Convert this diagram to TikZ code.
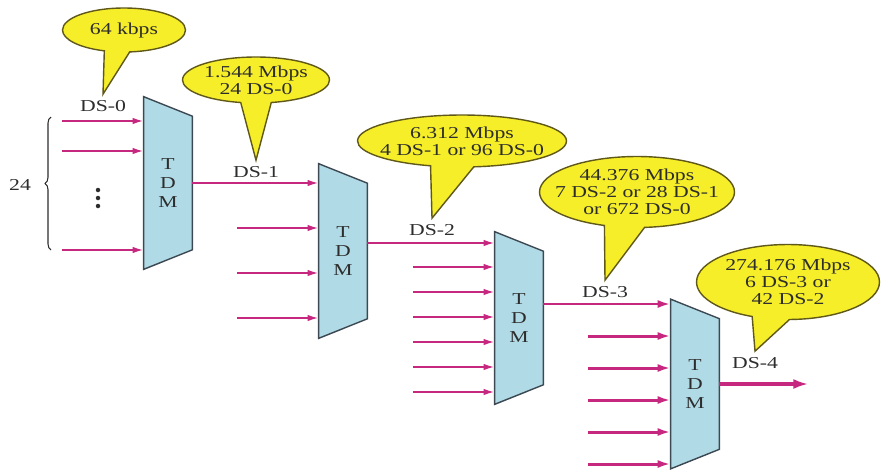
\documentclass[tikz,border=0pt]{standalone}
\usepackage{fontspec}
\setmainfont{Liberation Serif}[FakeStretch=1.3]
\usepackage{tikz}
\usetikzlibrary{arrows.meta,positioning,calc,backgrounds,shapes.callouts,decorations.pathreplacing}
\definecolor{amarillo}{RGB}{246,238,40}
\definecolor{oliva}{RGB}{95,88,25}
\definecolor{celeste}{RGB}{176,219,230}
\definecolor{pizarra}{RGB}{60,72,82}
\definecolor{magenta}{RGB}{198,40,128}
\definecolor{grisoscuro}{RGB}{45,45,45}

\begin{document}
\begin{tikzpicture}[x=0.02cm,y=-0.02cm,font=\fontsize{9.5}{9.6}\selectfont,text=grisoscuro,
  globo/.style={ellipse callout,draw=oliva,fill=amarillo,line width=0.8pt,callout pointer arc=24},
  tdm/.style={minimum width=0.96cm,align=center,font=\fontsize{9.5}{11}\selectfont},
  senal/.style={draw=magenta,line width=1.1pt,-{Latex[length=0.22cm,width=0.13cm]}},
  senalgruesa/.style={senal,line width=1.7pt,-{Latex[length=0.26cm,width=0.16cm]}}]
\useasboundingbox (0,0) rectangle (881,470);

% multiplexores
\node[tdm,minimum height=3.44cm] (m1) at (168,183) {T\\D\\M};
\node[tdm,minimum height=3.48cm] (m2) at (343,251) {T\\D\\M};
\node[tdm,minimum height=3.44cm] (m3) at (519,318) {T\\D\\M};
\node[tdm,minimum height=3.38cm] (m4) at (695,384) {T\\D\\M};
\begin{scope}[on background layer]
\foreach \m in {m1,m2,m3,m4}
  \draw[draw=pizarra,fill=celeste,line width=0.8pt] (\m.north west) -- ($(\m.north east)+(0,19.5)$)
    -- ($(\m.south east)+(0,-19.5)$) -- (\m.south west) -- cycle;
\end{scope}

% entradas
\foreach \y in {121,151,250}
  \draw[senal] (62,\y) coordinate (a) -- (a -| m1.west);
\foreach \y in {190,198,206}
  \fill[grisoscuro] (98,\y) circle (0.045cm);
\draw[grisoscuro,line width=0.6pt,decorate,decoration={brace,amplitude=0.12cm}] (51,250) -- (51,117);
\node (n24) at (20,185) {24};

\draw[senal] (m1.east) -- (m1.east -| m2.west);
\foreach \y in {228,273,318}
  \draw[senal] (237,\y) coordinate (a) -- (a -| m2.west);

\draw[senal] ($(m2.east)+(0,-8)$) coordinate (a) -- (a -| m3.west);
\foreach \y in {267,292,...,392}
  \draw[senal] (413,\y) coordinate (a) -- (a -| m3.west);

\draw[senalgruesa] ($(m3.east)+(0,-14)$) coordinate (a) -- (a -| m4.west);
\foreach \y in {336,368,...,464}
  \draw[senalgruesa] (588,\y) coordinate (a) -- (a -| m4.west);

\draw[senalgruesa,line width=2.3pt,-{Latex[length=0.3cm,width=0.2cm]}] (m4.east) -- ++(89,0) coordinate (fin);

% etiquetas
\node (ds0) at (103,106) {DS-0};
\node (ds1) at (256,172) {DS-1};
\node (ds2) at (432,230) {DS-2};
\node (ds3) at (605,292) {DS-3};
\node (ds4) at (755,363) {DS-4};

% globos
\node[globo,minimum width=2.46cm,minimum height=0.88cm,callout absolute pointer=(ds0.north),
  label={center:64 kbps}] (b1) at (124,30) {};
\node[globo,minimum width=2.94cm,minimum height=0.92cm,callout absolute pointer=(ds1.north),
  label={[align=center]center:1.544 Mbps\\24 DS-0}] (b2) at (256,80) {};
\node[globo,minimum width=4.18cm,minimum height=1.04cm,callout absolute pointer=(ds2.north),
  label={[align=center]center:6.312 Mbps\\4 DS-1 or 96 DS-0}] (b3) at (462,141) {};
\node[globo,minimum width=3.9cm,minimum height=1.42cm,callout absolute pointer=(ds3.north),
  label={[align=center]center:44.376 Mbps\\7 DS-2 or 28 DS-1\\or 672 DS-0}] (b4) at (637,192) {};
\node[globo,minimum width=3.66cm,minimum height=1.5cm,callout absolute pointer=(ds4.north),
  label={[align=center]center:274.176 Mbps\\6 DS-3 or\\42 DS-2}] (b5) at (788,282) {};
\end{tikzpicture}
\end{document}
